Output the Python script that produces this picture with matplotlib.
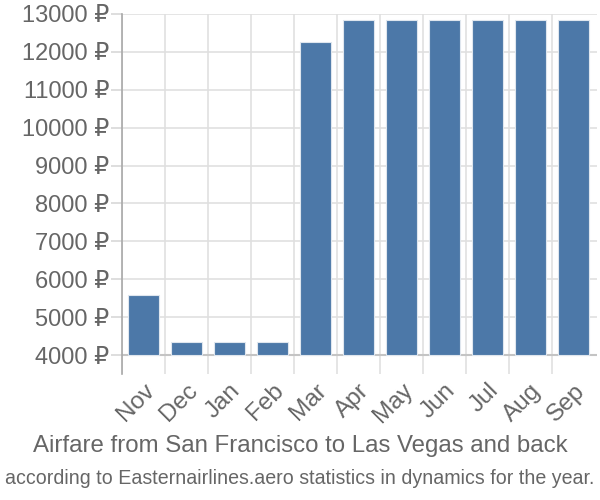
"""Airfare bar chart: San Francisco - Las Vegas round trip by month."""
import matplotlib
matplotlib.use("Agg")
import matplotlib.pyplot as plt
import numpy as np

plt.rcParams["font.family"] = ["Liberation Sans", "DejaVu Sans"]

MONTHS = ["Nov", "Dec", "Jan", "Feb", "Mar", "Apr", "May", "Jun", "Jul", "Aug", "Sep"]
PRICES = [5580, 4340, 4340, 4340, 12260, 12840, 12840, 12840, 12840, 12840, 12840]
Y_TICKS = list(range(4000, 13001, 1000))

BAR_COLOR = "#4c78a8"
TEXT_COLOR = "#666666"
BASE = 4000


def main() -> None:
    fig = plt.figure(figsize=(6, 5), dpi=100)
    ax = fig.add_axes([0.203, 0.252, 0.792, 0.72])

    x = np.arange(len(MONTHS))
    heights = [p - BASE for p in PRICES]
    ax.bar(x, heights, width=0.72, bottom=BASE, color=BAR_COLOR,
           edgecolor="#dfe6ee", linewidth=0.8, zorder=3)

    ax.set_xlim(-0.5, len(MONTHS) - 0.45)
    ax.set_ylim(3500, 13000)

    # grid: vertical lines between categories, horizontal at ticks
    ax.set_xticks(x - 0.5, minor=True)
    ax.set_xticks(x)
    ax.set_xticklabels(MONTHS, rotation=45, ha="right", rotation_mode="anchor",
                       fontsize=17.5, color=TEXT_COLOR)
    ax.tick_params(axis="x", which="major", length=0, pad=4)
    ax.tick_params(axis="x", which="minor", length=0)
    ax.grid(axis="x", which="minor", color="#e0e0e0", linewidth=1.2, zorder=0)

    ax.set_yticks(Y_TICKS)
    ax.set_yticklabels([f"{v} \u20bd" for v in Y_TICKS], fontsize=17, color=TEXT_COLOR)
    ax.tick_params(axis="y", length=8, color="#d8d8d8", width=1.2, pad=1)
    ax.grid(axis="y", color="#e0e0e0", linewidth=1.2, zorder=0)
    ax.axhline(BASE, color="#c4c4c4", linewidth=1.5, zorder=2)

    for side in ("top", "right", "bottom"):
        ax.spines[side].set_visible(False)
    ax.spines["left"].set_color("#a8a8a8")
    ax.spines["left"].set_linewidth(1.2)

    fig.text(0.5, 0.108, "Airfare from San Francisco to Las Vegas and back",
             ha="center", va="center", fontsize=17.3, color=TEXT_COLOR)
    fig.text(0.5, 0.043, "according to Easternairlines.aero statistics in dynamics for the year.",
             ha="center", va="center", fontsize=14.1, color=TEXT_COLOR)

    fig.savefig("out.png", dpi=100)
    plt.close(fig)


if __name__ == "__main__":
    main()
